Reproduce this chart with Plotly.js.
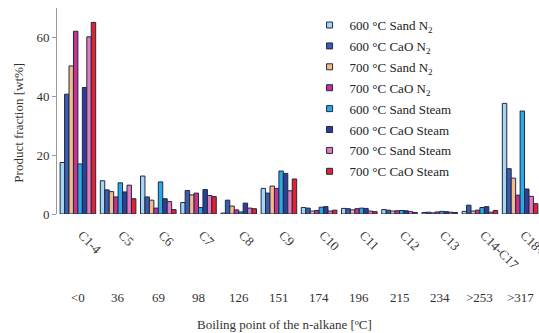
<!DOCTYPE html>
<html>
<head>
<meta charset="utf-8">
<script src="https://cdn.plot.ly/plotly-3.0.1.min.js"></script>
<style>
  html, body { margin: 0; padding: 0; background: #fff; }
  #chart { width: 539px; height: 333px; }
</style>
</head>
<body>
<div id="chart"></div>
<script>
// n-alkane carbon-number fractions and their boiling points
const categories = ['C1-4', 'C5', 'C6', 'C7', 'C8', 'C9', 'C10', 'C11', 'C12', 'C13', 'C14-C17', 'C18+'];
const boilingPoints = ['<0', '36', '69', '98', '126', '151', '174', '196', '215', '234', '>253', '>317'];

// Product fraction [wt%] for each run condition
const sand600N2    = [17.5, 11.3, 12.9, 3.9, 0.3, 8.7, 2.2, 1.9, 1.5, 0.5, 0.9, 37.6];
const cao600N2     = [40.7, 8.2, 5.8, 8.0, 4.7, 7.1, 2.0, 1.8, 1.3, 0.6, 3.0, 15.4];
const sand700N2    = [50.3, 7.6, 4.7, 6.5, 2.7, 9.5, 1.0, 1.4, 1.0, 0.4, 1.0, 12.2];
const cao700N2     = [62.1, 5.8, 2.0, 7.1, 1.4, 8.7, 1.2, 1.8, 1.1, 0.7, 1.3, 6.4];
const sand600Steam = [17.0, 10.6, 10.9, 2.2, 0.7, 14.6, 2.3, 2.0, 1.2, 0.9, 2.2, 35.0];
const cao600Steam  = [43.0, 7.5, 5.2, 8.3, 3.7, 13.8, 2.5, 1.9, 1.1, 0.8, 2.5, 8.5];
const sand700Steam = [60.2, 9.8, 4.2, 6.3, 2.0, 7.9, 1.0, 1.0, 0.8, 0.6, 0.6, 6.0];
const cao700Steam  = [65.1, 5.2, 1.5, 5.9, 1.8, 11.9, 1.3, 0.8, 0.5, 0.5, 1.2, 3.5];

const seriesNames = [
  '600 °C Sand N<sub>2</sub>', '600 °C CaO N<sub>2</sub>',
  '700 °C Sand N<sub>2</sub>', '700 °C CaO N<sub>2</sub>',
  '600 °C Sand Steam', '600 °C CaO Steam',
  '700 °C Sand Steam', '700 °C CaO Steam'
];
const seriesValues = [sand600N2, cao600N2, sand700N2, cao700N2,
                      sand600Steam, cao600Steam, sand700Steam, cao700Steam];
const seriesColors = ['#a9d6ef', '#3b5cab', '#f7bb86', '#c9318f',
                      '#2aaae0', '#2d3f95', '#e87ab8', '#e3222c'];

const outline = '#1e2a4a';
const serif = '"Liberation Serif", "Times New Roman", serif';
const textColor = '#333';

const traces = [];
seriesValues.forEach((vals, i) => {
  traces.push({
    type: 'bar',
    x: categories,
    y: vals,
    name: seriesNames[i],
    showlegend: false,
    marker: { color: seriesColors[i], line: { color: outline, width: 1 } }
  });
});
// small square legend keys
seriesValues.forEach((vals, i) => {
  traces.push({
    type: 'scatter',
    mode: 'markers',
    x: [null],
    y: [null],
    name: seriesNames[i],
    legendgroup: 'g' + i,
    marker: { symbol: 'square', size: 6, color: seriesColors[i], line: { color: outline, width: 1 } },
    hoverinfo: 'skip'
  });
});

const annotations = boilingPoints.map((bp, i) => ({
  x: categories[i], xref: 'x',
  y: -0.405, yref: 'paper',
  text: bp, showarrow: false,
  font: { family: serif, size: 13, color: textColor },
  xanchor: 'center', yanchor: 'middle'
}));
annotations.push({
  x: 0.473, xref: 'paper', y: -0.537, yref: 'paper',
  text: 'Boiling point of the n-alkane [ºC]', showarrow: false,
  font: { family: serif, size: 13, color: textColor },
  xanchor: 'center', yanchor: 'middle'
});
annotations.push({
  x: -0.079, xref: 'paper', y: 0.443, yref: 'paper',
  text: 'Product fraction [wt%]', showarrow: false, textangle: -90,
  font: { family: serif, size: 13, color: textColor },
  xanchor: 'center', yanchor: 'middle'
});

const layout = {
  width: 539,
  height: 333,
  margin: { l: 57, r: 0, t: 8, b: 119 },
  paper_bgcolor: '#fff',
  plot_bgcolor: '#fff',
  barmode: 'group',
  bargap: 0.115,
  bargroupgap: 0,
  showlegend: true,
  legend: {
    x: 0.524, y: 0.99, xanchor: 'left', yanchor: 'top',
    font: { family: serif, size: 13, color: '#222' },
    tracegroupgap: 1,
    itemsizing: 'trace',
    bgcolor: 'rgba(0,0,0,0)'
  },
  xaxis: {
    type: 'category',
    range: [-0.52, 11.47],
    showline: false,
    showgrid: false,
    zeroline: false,
    ticks: '',
    tickangle: 45,
    ticklabelstandoff: 10,
    ticklabelshift: 4,
    tickfont: { family: serif, size: 13, color: textColor }
  },
  yaxis: {
    range: [0, 70],
    tickvals: [0, 20, 40, 60],
    showline: true,
    linecolor: '#9a9a9a',
    linewidth: 1,
    ticks: 'outside',
    ticklen: 4,
    tickcolor: '#9a9a9a',
    showgrid: false,
    zeroline: false,
    tickfont: { family: serif, size: 13, color: textColor }
  },
  annotations: annotations
};

Plotly.newPlot('chart', traces, layout, { displayModeBar: false, staticPlot: true });
</script>
</body>
</html>
